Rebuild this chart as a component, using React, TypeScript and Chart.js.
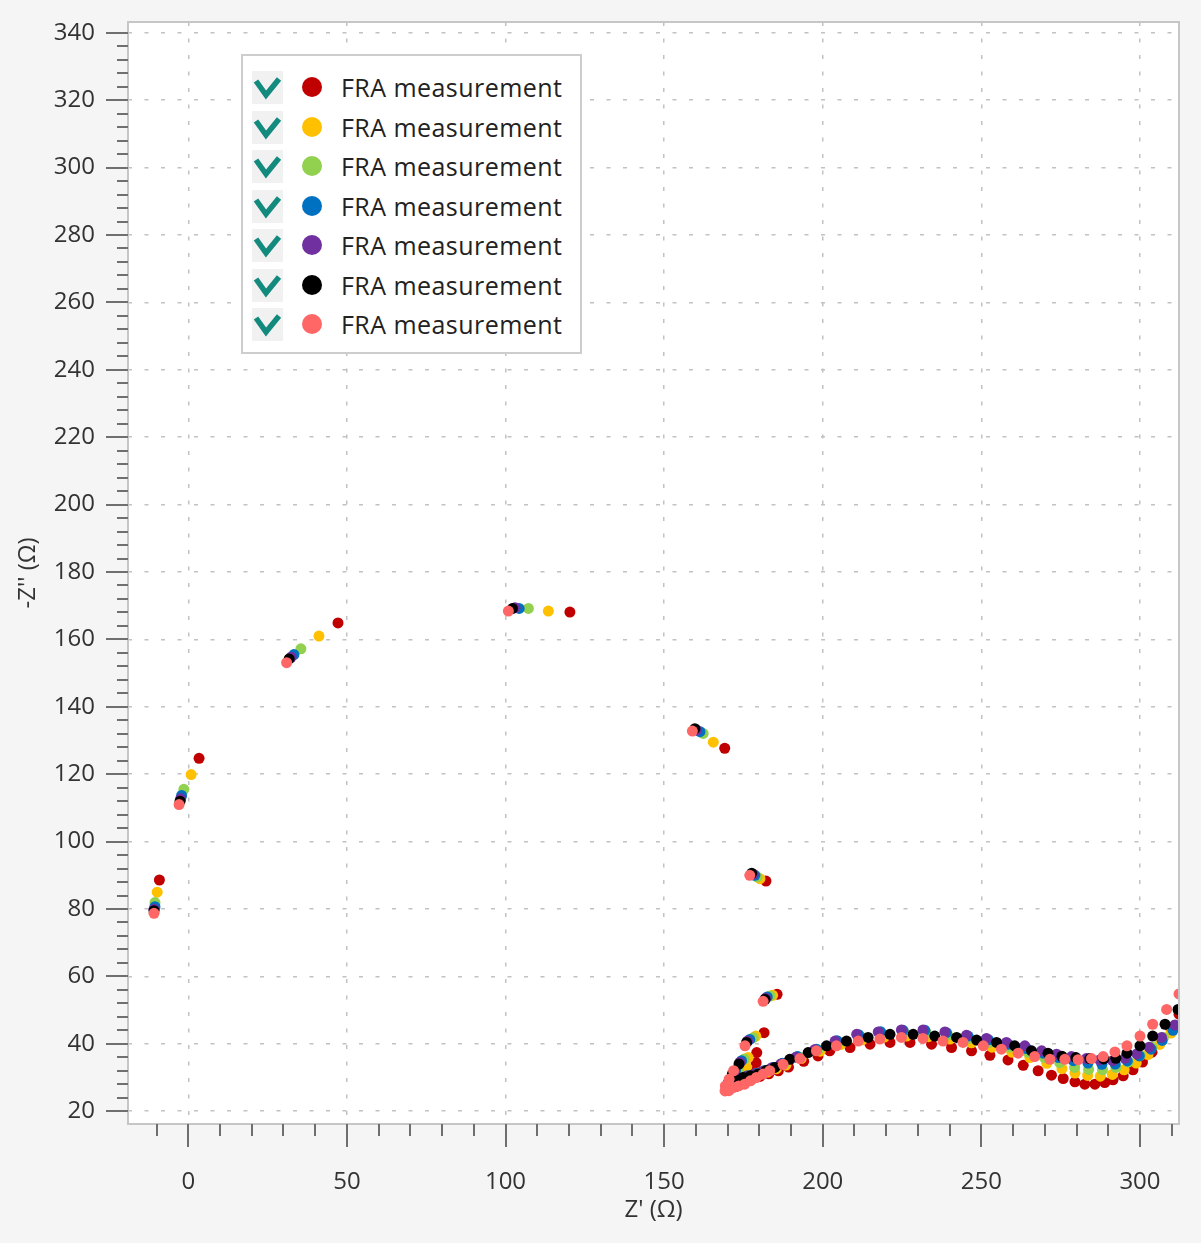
import React, { useEffect, useRef } from "react";
import { Chart, registerables } from "chart.js";

Chart.register(...registerables);

// ---------- data ----------
const SERIES_LABELS = [
  "FRA measurement",
  "FRA measurement",
  "FRA measurement",
  "FRA measurement",
  "FRA measurement",
  "FRA measurement",
  "FRA measurement",
];
const SERIES_COLORS = ["#c00000", "#ffc000", "#92d050", "#0070c0", "#7030a0", "#000000", "#ff6666"];

const X_TICKS = [0, 50, 100, 150, 200, 250, 300];
const Y_TICKS = [20, 40, 60, 80, 100, 120, 140, 160, 180, 200, 220, 240, 260, 280, 300, 320, 340];
const X_MINOR_STEP = 10;
const Y_MINOR_STEP = 4;
const X_MIN = -19;
const X_MAX = 312.3;
const Y_MIN = 16.2;
const Y_MAX = 343.2;
const X_TITLE = "Z' (Ω)";
const Y_TITLE = "-Z'' (Ω)";

type P = [number, number];

const RED: P[] = [
  [-9.1, 88.6], [3.4, 124.7], [47.2, 164.9], [120.3, 168.1], [169.1, 127.7], [182.1, 88.3], [185.6, 54.7],
  [181.5, 43.3], [179.2, 37.4], [179.0, 34.4], [177.8, 31.6],
  [172.5, 27.3], [175.0, 28.6], [177.5, 29.4], [180.2, 30.3], [183.0, 31.1], [186.0, 32.0], [189.2, 33.1],
  [194.0, 34.8], [198.5, 36.4], [202.2, 37.9], [208.6, 38.9], [214.9, 39.9], [221.2, 40.4], [227.5, 40.4],
  [234.3, 39.9], [240.6, 38.9], [246.9, 37.9], [252.7, 36.6], [258.4, 35.2], [263.2, 33.6], [267.9, 32.0],
  [272.1, 30.7], [275.8, 29.7], [279.5, 28.7], [282.6, 28.0], [285.8, 28.0], [288.9, 28.5], [291.5, 29.3],
  [294.7, 30.5], [297.8, 32.3], [300.8, 34.6], [303.8, 37.5], [306.8, 41.0], [309.6, 44.8], [312.3, 48.8],
];

const YELLOW: P[] = [
  [-9.8, 85.0], [0.9, 119.9], [41.2, 161.0], [113.5, 168.4], [165.5, 129.5], [180.2, 89.0], [184.2, 54.4],
  [178.9, 42.3], [176.5, 35.9], [176.0, 33.0], [175.0, 30.8],
  [173.0, 28.2], [175.2, 29.2], [177.5, 30.0], [180.0, 30.8], [182.6, 31.6], [185.4, 32.6], [188.4, 33.7],
  [193.2, 35.6], [199.2, 37.8], [205.7, 39.8], [212.5, 41.2], [219.4, 42.0], [226.4, 42.3], [233.3, 42.1],
  [240.1, 41.4], [246.9, 40.3], [253.3, 39.0], [259.6, 37.5], [265.3, 35.9], [270.6, 34.2], [275.4, 32.6],
  [279.5, 31.3], [283.5, 30.6], [287.5, 30.4], [291.3, 30.9], [295.0, 32.3], [298.8, 34.3], [302.5, 36.8],
  [306.2, 39.8], [309.8, 43.2],
];

const GREEN: P[] = [
  [-10.5, 81.9], [-1.4, 115.5], [35.5, 157.2], [107.2, 169.2], [162.3, 132.1], [179.3, 89.5], [183.4, 54.2],
  [178.1, 41.8], [175.3, 35.5], [173.4, 32.4], [171.8, 30.0],
  [172.2, 28.4], [174.4, 29.5], [176.8, 30.4], [179.3, 31.2], [182.0, 32.0], [184.8, 33.0], [187.8, 34.1],
  [192.5, 36.1], [198.5, 38.2], [205.0, 40.5], [211.8, 42.2], [218.7, 43.0], [225.7, 43.4], [232.6, 43.3],
  [239.4, 42.6], [246.2, 41.6], [252.6, 40.4], [258.9, 39.0], [264.6, 37.5], [269.9, 35.9], [274.7, 34.4],
  [279.4, 33.0], [283.8, 32.4], [288.2, 32.3], [292.4, 33.0], [296.3, 34.6], [300.1, 36.6], [303.8, 39.0],
  [307.4, 41.9], [310.9, 45.2],
];

const BLUE: P[] = [
  [-10.5, 80.7], [-2.1, 113.7], [33.3, 155.5], [104.3, 169.2], [161.3, 132.6], [178.6, 90.0], [182.5, 53.9],
  [177.0, 41.3], [174.4, 35.0], [172.5, 32.0], [171.0, 29.5],
  [171.8, 28.4], [174.0, 29.6], [176.3, 30.5], [178.8, 31.2], [181.5, 32.0], [184.3, 33.0], [187.3, 34.2],
  [192.0, 36.2], [198.0, 38.4], [204.5, 40.9], [211.3, 42.7], [218.2, 43.6], [225.3, 44.0], [232.2, 44.0],
  [239.0, 43.3], [245.8, 42.3], [252.2, 41.2], [258.5, 39.9], [264.2, 38.6], [269.5, 37.2], [274.3, 35.9],
  [279.0, 35.0], [283.6, 34.3], [288.0, 33.9], [292.2, 34.0], [296.0, 34.9], [299.8, 36.4], [303.5, 38.4],
  [307.0, 41.0], [310.4, 44.0],
];

const PURPLE: P[] = [
  [-10.8, 79.9], [-2.4, 112.7], [32.4, 154.7], [103.0, 169.4], [160.2, 133.1], [178.1, 90.3], [182.0, 53.5],
  [176.3, 40.8], [173.9, 34.5], [172.0, 31.5], [170.6, 29.0],
  [171.5, 28.2], [173.6, 29.4], [175.8, 30.3], [178.3, 31.0], [181.0, 31.8], [183.8, 32.8], [186.8, 34.0],
  [191.5, 36.0], [197.4, 38.2], [203.9, 40.8], [210.7, 42.8], [217.5, 43.5], [224.8, 44.1], [231.6, 44.1],
  [238.5, 43.5], [245.3, 42.5], [251.6, 41.6], [257.9, 40.4], [263.7, 39.4], [269.0, 37.9], [273.7, 36.9],
  [278.4, 36.2], [283.1, 35.6], [287.3, 35.2], [291.4, 35.0], [295.3, 35.7], [299.0, 37.0], [302.9, 39.0],
  [306.8, 41.9], [311.0, 45.6],
];

const BLACK: P[] = [
  [-10.8, 79.5], [-2.6, 112.0], [31.8, 154.2], [102.2, 169.2], [159.7, 133.5], [177.6, 90.6], [181.8, 53.2],
  [176.0, 40.4], [173.6, 34.0], [171.5, 31.0], [170.3, 28.5],
  [171.0, 27.8], [172.8, 29.0], [174.9, 30.0], [177.2, 30.5], [179.6, 31.0], [182.2, 32.1], [184.9, 33.0],
  [189.6, 35.4], [195.4, 37.4], [201.2, 39.4], [207.5, 40.8], [214.3, 41.9], [221.2, 42.8], [228.5, 42.8],
  [235.3, 42.3], [242.2, 41.9], [248.5, 41.1], [254.8, 40.4], [260.5, 39.4], [265.8, 37.9], [271.0, 37.2],
  [275.4, 36.3], [279.8, 35.9], [284.2, 35.6], [288.6, 35.5], [292.4, 35.7], [295.9, 37.2], [300.0, 39.4],
  [304.0, 42.3], [307.9, 45.8], [312.0, 50.2],
];

const PINK: P[] = [
  [-10.8, 78.7], [-2.9, 111.0], [31.0, 153.1], [100.9, 168.4], [158.9, 132.8], [177.0, 90.0], [181.2, 52.6],
  [175.5, 39.4], [171.9, 32.0], [170.5, 29.5], [169.3, 27.5], [169.2, 26.0],
  [170.4, 26.1], [171.8, 27.0], [173.5, 27.5], [175.4, 28.0], [177.2, 29.0], [179.1, 30.0], [181.2, 31.0],
  [183.3, 32.0], [187.5, 33.9], [192.8, 35.6], [198.0, 37.9], [204.3, 39.4], [211.2, 40.8], [218.0, 41.4],
  [224.8, 41.9], [231.6, 41.6], [237.9, 40.8], [244.2, 40.4], [250.6, 39.4], [256.3, 38.4], [261.6, 37.2],
  [266.8, 36.2], [271.6, 35.4], [276.3, 35.4], [280.5, 35.3], [284.7, 35.6], [288.4, 36.2], [292.1, 37.6],
  [295.9, 39.4], [300.0, 42.3], [304.0, 45.8], [308.4, 50.2], [312.3, 54.8],
];

const SERIES: P[][] = [RED, YELLOW, GREEN, BLUE, PURPLE, BLACK, PINK];

// ---------- styling ----------
const FONT = "'Open Sans', 'Noto Sans', sans-serif";
const TEXT_COLOR = "#333333";
const TICK_COLOR = "#6f6f6f";
const FRAME_COLOR = "#c6c6c6";
const GRID_COLOR = "#c2c2c2";

const decorPlugin = {
  id: "decor",
  beforeDraw(chart: any) {
    const { ctx, chartArea: a, width, height } = chart;
    ctx.save();
    ctx.fillStyle = "#f5f5f5";
    ctx.fillRect(0, 0, width, height);
    ctx.fillStyle = "#ffffff";
    ctx.fillRect(a.left, a.top, a.right - a.left, a.bottom - a.top);
    ctx.restore();
  },
  afterDraw(chart: any) {
    const { ctx, chartArea: a } = chart;
    const xs = chart.scales.x;
    const ys = chart.scales.y;
    ctx.save();
    ctx.strokeStyle = FRAME_COLOR;
    ctx.lineWidth = 2;
    ctx.strokeRect(a.left, a.top, a.right - a.left, a.bottom - a.top);

    ctx.strokeStyle = TICK_COLOR;
    ctx.lineWidth = 2;
    ctx.beginPath();
    const yStart = Math.ceil(Y_MIN / Y_MINOR_STEP) * Y_MINOR_STEP;
    for (let v = yStart; v <= Y_MAX; v += Y_MINOR_STEP) {
      const py = Math.round(ys.getPixelForValue(v));
      const major = Y_TICKS.includes(v);
      ctx.moveTo(a.left - (major ? 22 : 11), py);
      ctx.lineTo(a.left, py);
    }
    const xStart = Math.ceil(X_MIN / X_MINOR_STEP) * X_MINOR_STEP;
    for (let v = xStart; v <= X_MAX; v += X_MINOR_STEP) {
      const px = Math.round(xs.getPixelForValue(v));
      const major = X_TICKS.includes(v);
      ctx.moveTo(px, a.bottom);
      ctx.lineTo(px, a.bottom + (major ? 23 : 12));
    }
    ctx.stroke();
    ctx.restore();
  },
};

function Legend() {
  return (
    <div
      style={{
        position: "absolute",
        left: 241,
        top: 54,
        width: 341,
        height: 300,
        boxSizing: "border-box",
        background: "#ffffff",
        border: "2px solid #cdcdcd",
        fontFamily: FONT,
      }}
    >
      {SERIES_LABELS.map((label, i) => (
        <div
          key={i}
          style={{
            position: "absolute",
            left: 0,
            top: 33 + i * 39.5 - 20 - 2,
            height: 40,
            width: 337,
          }}
        >
          <div
            style={{
              position: "absolute",
              left: 9,
              top: 4,
              width: 31,
              height: 33,
              background: "#f1f1f1",
            }}
          >
            <svg width={31} height={33} style={{ position: "absolute", left: 0, top: 0 }}>
              <path d="M4 10 L14 24 L27 8" fill="none" stroke="#138a7e" strokeWidth={5.5} strokeLinejoin="miter" />
            </svg>
          </div>
          <div
            style={{
              position: "absolute",
              left: 59,
              top: 10,
              width: 20,
              height: 20,
              borderRadius: "50%",
              background: SERIES_COLORS[i],
            }}
          />
          <div
            style={{
              position: "absolute",
              left: 98,
              top: 0,
              height: 40,
              lineHeight: "40px",
              fontSize: 25,
              letterSpacing: "0.45px",
              color: "#222222",
              whiteSpace: "nowrap",
            }}
          >
            {label}
          </div>
        </div>
      ))}
    </div>
  );
}

export default function App() {
  const ref = useRef<HTMLCanvasElement | null>(null);

  useEffect(() => {
    if (!ref.current) return;
    const zeroPad = (s: any) => {
      s.paddingTop = 0;
      s.paddingBottom = 0;
      s.paddingLeft = 0;
      s.paddingRight = 0;
    };
    const chart = new Chart(ref.current, {
      type: "scatter",
      data: {
        datasets: SERIES.map((s, i) => ({
          label: SERIES_LABELS[i],
          data: s.map(([x, y]) => ({ x, y })),
          backgroundColor: SERIES_COLORS[i],
          borderColor: SERIES_COLORS[i],
          pointRadius: 5.5,
          pointBorderWidth: 0,
          pointHoverRadius: 5.5,
          showLine: false,
          order: SERIES.length - 1 - i,
          clip: 0,
        })),
      },
      options: {
        animation: false,
        responsive: false,
        maintainAspectRatio: false,
        devicePixelRatio: 1,
        layout: { padding: { left: 0, top: 22, right: 22, bottom: 0 } },
        plugins: {
          legend: { display: false },
          tooltip: { enabled: false },
        },
        scales: {
          x: {
            type: "linear",
            min: X_MIN,
            max: X_MAX,
            afterBuildTicks: (s: any) => {
              s.ticks = X_TICKS.map((v) => ({ value: v }));
            },
            afterFit: (s: any) => {
              s.height = 119;
              zeroPad(s);
            },
            grid: { color: GRID_COLOR, lineWidth: 1.5, drawTicks: false },
            border: { display: false, dash: [4, 12.5] },
            ticks: {
              padding: 44,
              color: TEXT_COLOR,
              font: { family: FONT, size: 24 },
              autoSkip: false,
              maxRotation: 0,
              callback: (v: any) => String(v),
            },
            title: {
              display: true,
              text: X_TITLE,
              color: TEXT_COLOR,
              font: { family: FONT, size: 24 },
              padding: { top: 0, bottom: 18 },
            },
          },
          y: {
            type: "linear",
            min: Y_MIN,
            max: Y_MAX,
            afterBuildTicks: (s: any) => {
              s.ticks = Y_TICKS.map((v) => ({ value: v }));
            },
            afterFit: (s: any) => {
              s.width = 128;
              zeroPad(s);
            },
            grid: { color: GRID_COLOR, lineWidth: 1.5, drawTicks: false },
            border: { display: false, dash: [4, 12.5] },
            ticks: {
              padding: 33,
              color: TEXT_COLOR,
              font: { family: FONT, size: 24 },
              autoSkip: false,
              callback: (v: any) => String(v),
            },
            title: {
              display: true,
              text: Y_TITLE,
              color: TEXT_COLOR,
              font: { family: FONT, size: 24 },
              padding: { top: 14, bottom: 0 },
            },
          },
        },
      },
      plugins: [decorPlugin],
    } as any);
    return () => chart.destroy();
  }, []);

  return (
    <div style={{ position: "absolute", left: 0, top: 0, width: 1201, height: 1243 }}>
      <canvas ref={ref} width={1201} height={1243} style={{ display: "block" }} />
      <Legend />
    </div>
  );
}
